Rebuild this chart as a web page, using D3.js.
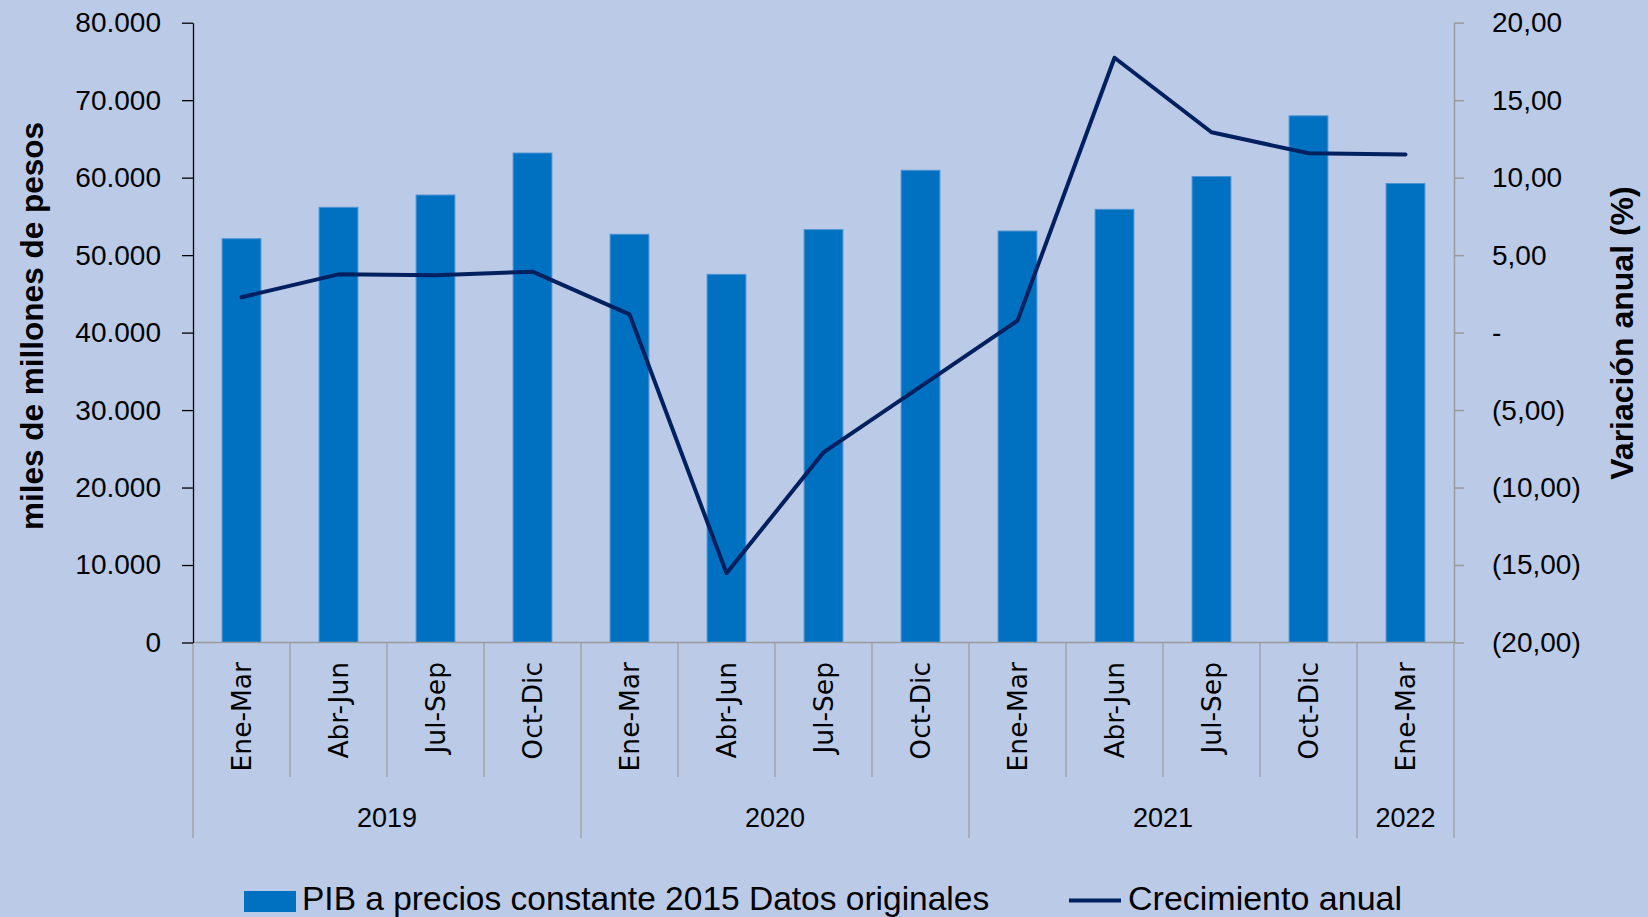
<!DOCTYPE html>
<html>
<head>
<meta charset="utf-8">
<script src="https://cdn.jsdelivr.net/npm/d3@7"></script>
<style>
  html, body { margin: 0; padding: 0; background: #BBCBE7; }
  svg { display: block; }
</style>
</head>
<body>
<svg id="chart" width="1648" height="917"></svg>
<script>
// ---- Data ----
const quarters = ["Ene-Mar","Abr-Jun","Jul-Sep","Oct-Dic","Ene-Mar","Abr-Jun","Jul-Sep","Oct-Dic","Ene-Mar","Abr-Jun","Jul-Sep","Oct-Dic","Ene-Mar"];
const years = ["2019","2019","2019","2019","2020","2020","2020","2020","2021","2021","2021","2021","2022"];
const pib = [52120, 56170, 57760, 63180, 52690, 47520, 53290, 60950, 53110, 55910, 60150, 67980, 59240];
const crecimiento = [2.28, 3.76, 3.70, 3.93, 1.18, -15.53, -7.73, -3.49, 0.77, 17.74, 12.93, 11.57, 11.50];
const leftTicks = [0, 10000, 20000, 30000, 40000, 50000, 60000, 70000, 80000];
const rightTicks = [-20, -15, -10, -5, 0, 5, 10, 15, 20];
const legendLabels = ["PIB a precios constante 2015 Datos originales", "Crecimiento anual"];
const axisTitles = ["miles de millones de pesos", "Variación anual (%)"];

// ---- Layout ----
const W = 1648, H = 917;
const plot = { left: 193, right: 1454, top: 22.7, bottom: 642.5 };
const svg = d3.select("#chart");
const calibri = "'Liberation Sans', Arial, sans-serif";
const verdana = "'DejaVu Sans', Verdana, sans-serif";

const loc = d3.formatLocale({ decimal: ",", thousands: ".", grouping: [3], currency: ["$", ""] });
const fInt = loc.format(",.0f");
const fDec = loc.format(",.2f");
const fPct = v => v === 0 ? "-" : (v < 0 ? "(" + fDec(-v) + ")" : fDec(v));

const idx = d3.range(quarters.length);
const x = d3.scaleBand().domain(idx).range([plot.left, plot.right]).padding(0);
const yL = d3.scaleLinear().domain([0, 80000]).range([plot.bottom, plot.top]);
const yR = d3.scaleLinear().domain([-20, 20]).range([plot.bottom, plot.top]);
const barW = x.bandwidth() * 0.4;
const cx = i => x(i) + x.bandwidth() / 2;

// ---- Bars ----
svg.append("g").selectAll("rect").data(pib).join("rect")
  .attr("x", (d, i) => cx(i) - barW / 2)
  .attr("y", d => yL(d))
  .attr("width", barW)
  .attr("height", d => yL(0) - yL(d))
  .attr("fill", "#0070C0")
  .attr("stroke", "#4F93D2")
  .attr("stroke-width", 1);

// ---- Category axis (baseline + separators) ----
const gx = svg.append("g");
gx.append("line")
  .attr("x1", plot.left).attr("x2", plot.right)
  .attr("y1", yL(0)).attr("y2", yL(0))
  .attr("stroke", "#9A9A9A").attr("stroke-width", 1.5);

const edges = d3.range(quarters.length + 1);
gx.selectAll("line.sep").data(edges).join("line")
  .attr("class", "sep")
  .attr("x1", i => i < quarters.length ? x(i) : plot.right)
  .attr("x2", i => i < quarters.length ? x(i) : plot.right)
  .attr("y1", yL(0))
  .attr("y2", i => (i === 0 || i === quarters.length || years[i] !== years[i - 1]) ? 838 : 777)
  .attr("stroke", "#9A9A9A").attr("stroke-width", 1.2);

gx.selectAll("text.q").data(quarters).join("text")
  .attr("class", "q")
  .attr("transform", (d, i) => `translate(${cx(i)},662) rotate(-90)`)
  .attr("text-anchor", "end")
  .attr("dy", "0.36em")
  .attr("font-family", verdana)
  .attr("font-size", 26.5)
  .attr("fill", "#000")
  .text(d => d);

// Year group labels
const groups = d3.groups(idx, i => years[i]);
gx.selectAll("text.yr").data(groups).join("text")
  .attr("class", "yr")
  .attr("x", g => (x(g[1][0]) + x(g[1][g[1].length - 1]) + x.bandwidth()) / 2)
  .attr("y", 827)
  .attr("text-anchor", "middle")
  .attr("font-family", calibri)
  .attr("font-size", 27)
  .attr("fill", "#000")
  .text(g => g[0]);

// ---- Left axis ----
const axL = d3.axisLeft(yL).tickValues(leftTicks).tickFormat(fInt).tickSize(11).tickSizeOuter(0).tickPadding(21);
const gL = svg.append("g").attr("transform", `translate(${plot.left},0)`).call(axL);
gL.select(".domain").attr("stroke", "#000").attr("stroke-width", 1.3);
gL.selectAll(".tick line").attr("stroke", "#000").attr("stroke-width", 1.3);
gL.selectAll(".tick text").attr("font-family", calibri).attr("font-size", 28).attr("fill", "#000");

// ---- Right axis ----
const axR = d3.axisRight(yR).tickValues(rightTicks).tickFormat(fPct).tickSize(10).tickSizeOuter(0).tickPadding(28);
const gR = svg.append("g").attr("transform", `translate(${plot.right},0)`).call(axR);
gR.select(".domain").attr("stroke", "#9A9A9A").attr("stroke-width", 1.5);
gR.selectAll(".tick line").attr("stroke", "#9A9A9A").attr("stroke-width", 1.5);
gR.selectAll(".tick text").attr("font-family", calibri).attr("font-size", 28).attr("fill", "#000");

// ---- Line ----
const line = d3.line().x((d, i) => cx(i)).y(d => yR(d));
svg.append("path").datum(crecimiento)
  .attr("d", line)
  .attr("fill", "none")
  .attr("stroke", "#002060")
  .attr("stroke-width", 4)
  .attr("stroke-linejoin", "round")
  .attr("stroke-linecap", "round");

// ---- Axis titles ----
svg.append("text")
  .attr("transform", `translate(43,326) rotate(-90)`)
  .attr("text-anchor", "middle")
  .attr("font-family", calibri).attr("font-weight", "bold").attr("font-size", 31.5)
  .attr("fill", "#000")
  .text(axisTitles[0]);
svg.append("text")
  .attr("transform", `translate(1633,333) rotate(-90)`)
  .attr("text-anchor", "middle")
  .attr("font-family", calibri).attr("font-weight", "bold").attr("font-size", 32)
  .attr("fill", "#000")
  .text(axisTitles[1]);

// ---- Legend ----
const lg = svg.append("g");
lg.append("rect").attr("x", 244).attr("y", 891).attr("width", 52).attr("height", 21).attr("fill", "#0070C0");
lg.append("text").attr("x", 302).attr("y", 910)
  .attr("font-family", calibri).attr("font-size", 33.5).attr("fill", "#000")
  .text(legendLabels[0]);
lg.append("line").attr("x1", 1069).attr("x2", 1121).attr("y1", 900.5).attr("y2", 900.5)
  .attr("stroke", "#002060").attr("stroke-width", 4);
lg.append("text").attr("x", 1128).attr("y", 910)
  .attr("font-family", calibri).attr("font-size", 34).attr("fill", "#000")
  .text(legendLabels[1]);
</script>
</body>
</html>
